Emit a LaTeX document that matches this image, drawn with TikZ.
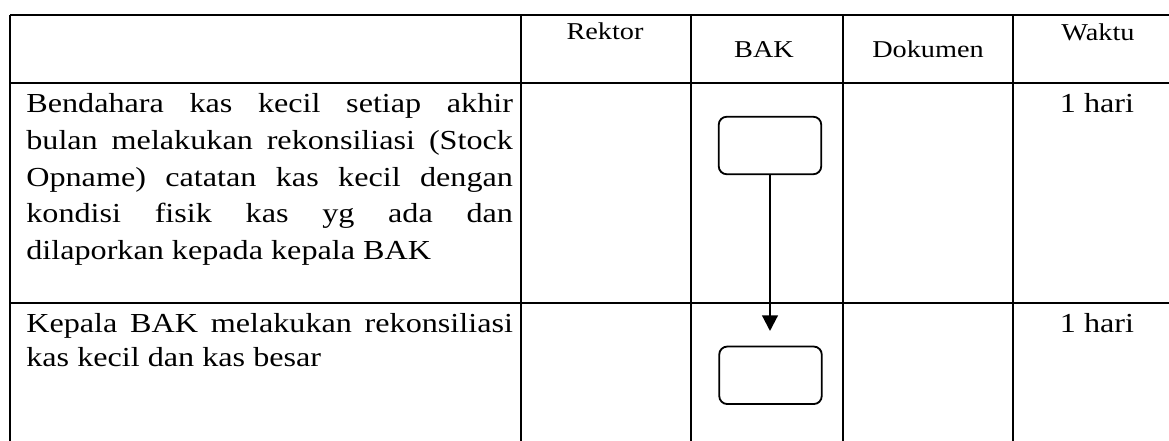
\documentclass[tikz,border=0pt]{standalone}
\usepackage{fontspec}
\setmainfont[FakeStretch=1.17]{Liberation Serif}
\usetikzlibrary{arrows.meta}
\begin{document}
\begin{tikzpicture}[x=0.6pt,y=-0.6pt,
  grid/.style={line width=1.4pt},
  head/.style={inner sep=0pt,anchor=base,font=\fontsize{14.5}{16}\selectfont},
  txt/.style={inner sep=0pt,anchor=base,font=\fontsize{16.5}{18}\selectfont},
  desc/.style={inner sep=0pt,anchor=base west,font=\fontsize{16.5}{18}\selectfont},
  proc/.style={draw,line width=1.1pt,rounded corners=4.8pt,minimum width=61.5pt,minimum height=34.5pt,inner sep=0pt},
  conn/.style={line width=1.3pt,-{Triangle[width=9.4pt,length=9.4pt]}}]
\useasboundingbox (0,0) rectangle (1169,441);
\clip (0,0) rectangle (1169,441);
% table rules
\draw[grid] (10,15) -- (1180,15);
\draw[grid] (10,83) -- (1180,83);
\draw[grid] (10,303) -- (1180,303);
\foreach \x in {10,521,691,843,1013} \draw[grid] (\x,15) -- (\x,450);
% header
\node[head] (hR) at (605,40) {Rektor};
\node[head] (hB) at (764,58) {BAK};
\node[head] (hD) at (928,58) {Dokumen};
\node[head] (hW) at (1098,41) {Waktu};
% row 1 description
\node[desc] (d1) at (26,112.7) {\hbox to 292pt{Bendahara kas kecil setiap akhir}};
\node[desc] (d2) at (26,149.4) {\hbox to 292pt{bulan melakukan rekonsiliasi (Stock}};
\node[desc] (d3) at (26,186.1) {\hbox to 292pt{Opname) catatan kas kecil dengan}};
\node[desc] (d4) at (26,222.8) {\hbox to 292pt{kondisi fisik kas yg ada dan}};
\node[desc] (d5) at (26,259.5) {dilaporkan kepada kepala BAK};
% row 2 description
\node[desc] (e1) at (26,332.7) {\hbox to 292pt{Kepala BAK melakukan rekonsiliasi}};
\node[desc] (e2) at (26,367) {kas kecil dan kas besar};
% time
\node[txt] (t1) at (1097,112.5) {1 hari};
\node[txt] (t2) at (1097,332.7) {1 hari};
% flow
\node[proc] (b1) at (770,145.5) {};
\node[proc] (b2) at (770.5,375.3) {};
\coordinate (tip) at (770,331);
\draw[conn] (b1.south) -- (tip);
\end{tikzpicture}
\end{document}
